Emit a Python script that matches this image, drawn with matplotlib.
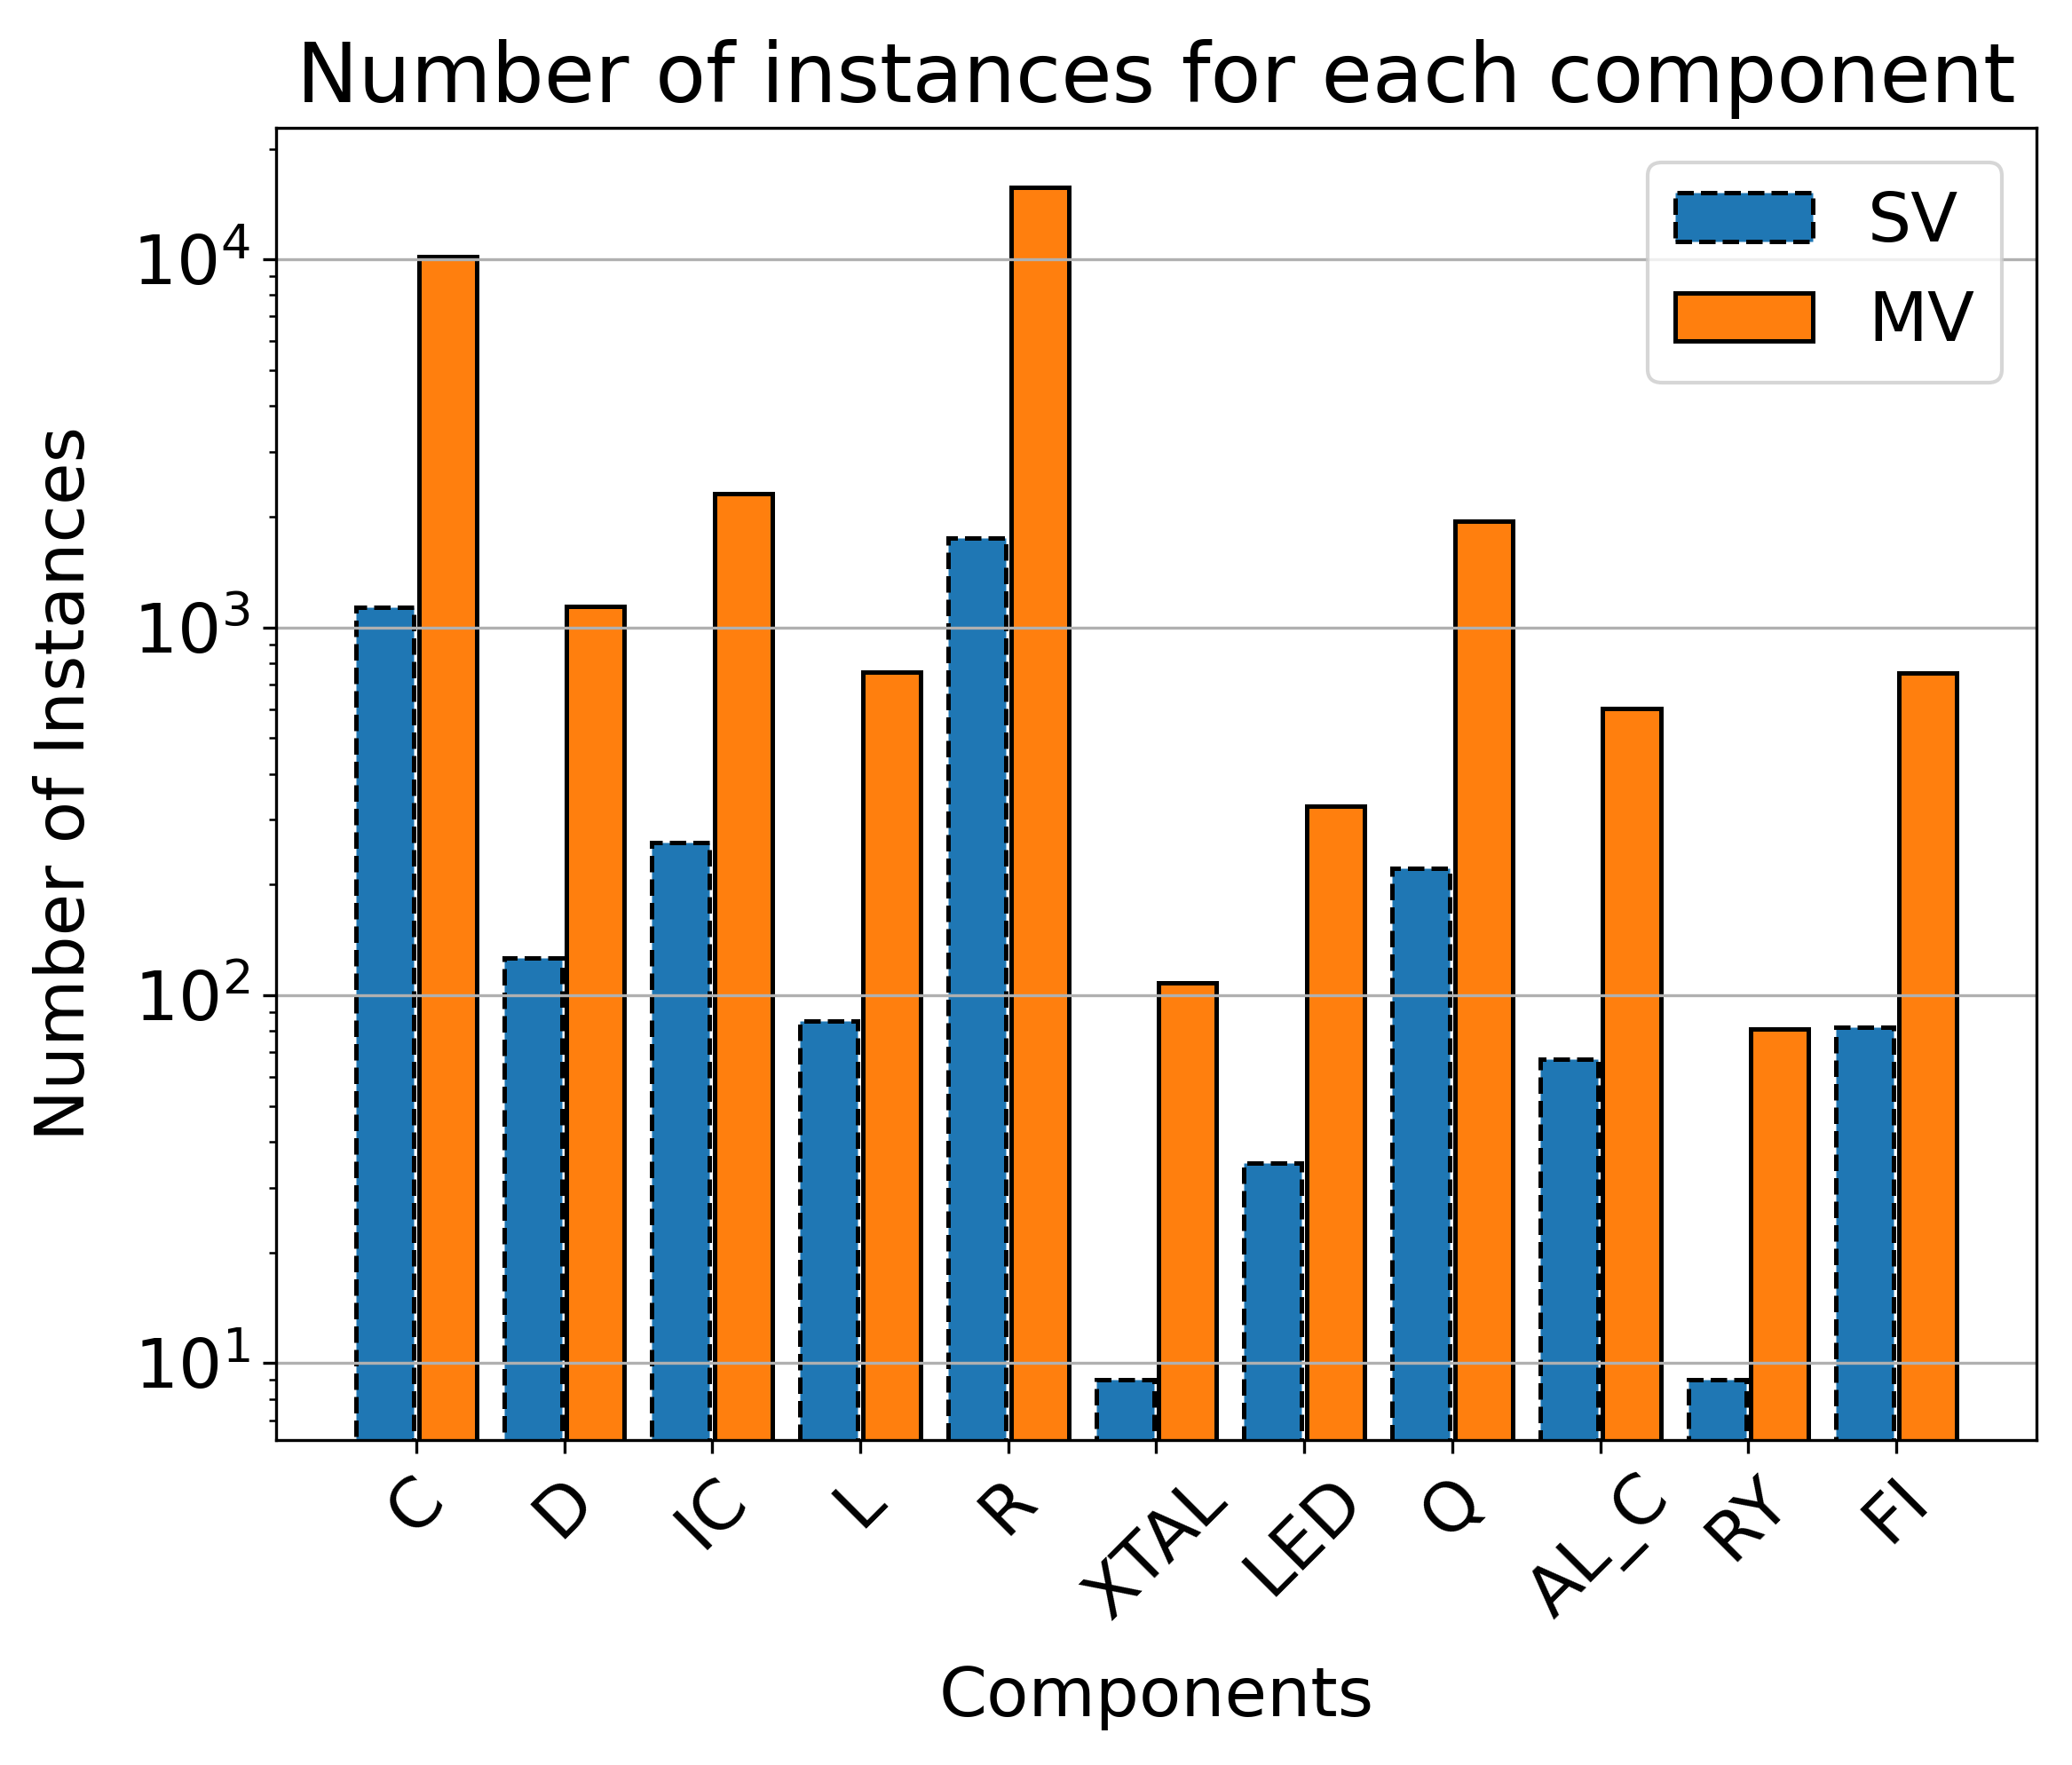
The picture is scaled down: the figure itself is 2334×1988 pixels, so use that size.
import numpy as np
import matplotlib
matplotlib.use("Agg")
import matplotlib.pyplot as plt

components = ['C', 'D', 'IC', 'L', 'R', 'XTAL', 'LED', 'Q', 'AL_C', 'RY', 'FI']
sv_counts = [1134, 126, 260, 85, 1748, 9, 35, 221, 67, 9, 82]
mv_counts = [10170, 1138, 2316, 755, 15700, 108, 326, 1945, 603, 81, 751]

width = 0.39
offset = 0.212
x = np.arange(len(components))

fig = plt.figure(figsize=(2334 / 300, 1988 / 300), dpi=300)
ax = fig.add_axes([0.1332, 0.1843, 0.9829 - 0.1332, 0.9276 - 0.1843])

ax.bar(x - offset, sv_counts, width, label='SV', color='#1f77b4',
       edgecolor='black', linestyle='--', linewidth=1.2)
ax.bar(x + offset, mv_counts, width, label='MV', color='#ff7f0e',
       edgecolor='black', linewidth=1.2)

ax.set_yscale('log')
ax.set_xticks(x)
ax.set_xticklabels(components, rotation=45, fontsize=18.6)
ax.tick_params(axis='y', labelsize=18.6)
ax.set_xlabel('Components', fontsize=18.6, labelpad=9)
ax.set_ylabel('Number of Instances', fontsize=18.6, labelpad=9)
ax.set_title('Number of instances for each component', fontsize=22.4, pad=7)
ax.grid(axis='y')
ax.legend(fontsize=18.6, loc='upper right')

fig.savefig('out.png', dpi=300)
